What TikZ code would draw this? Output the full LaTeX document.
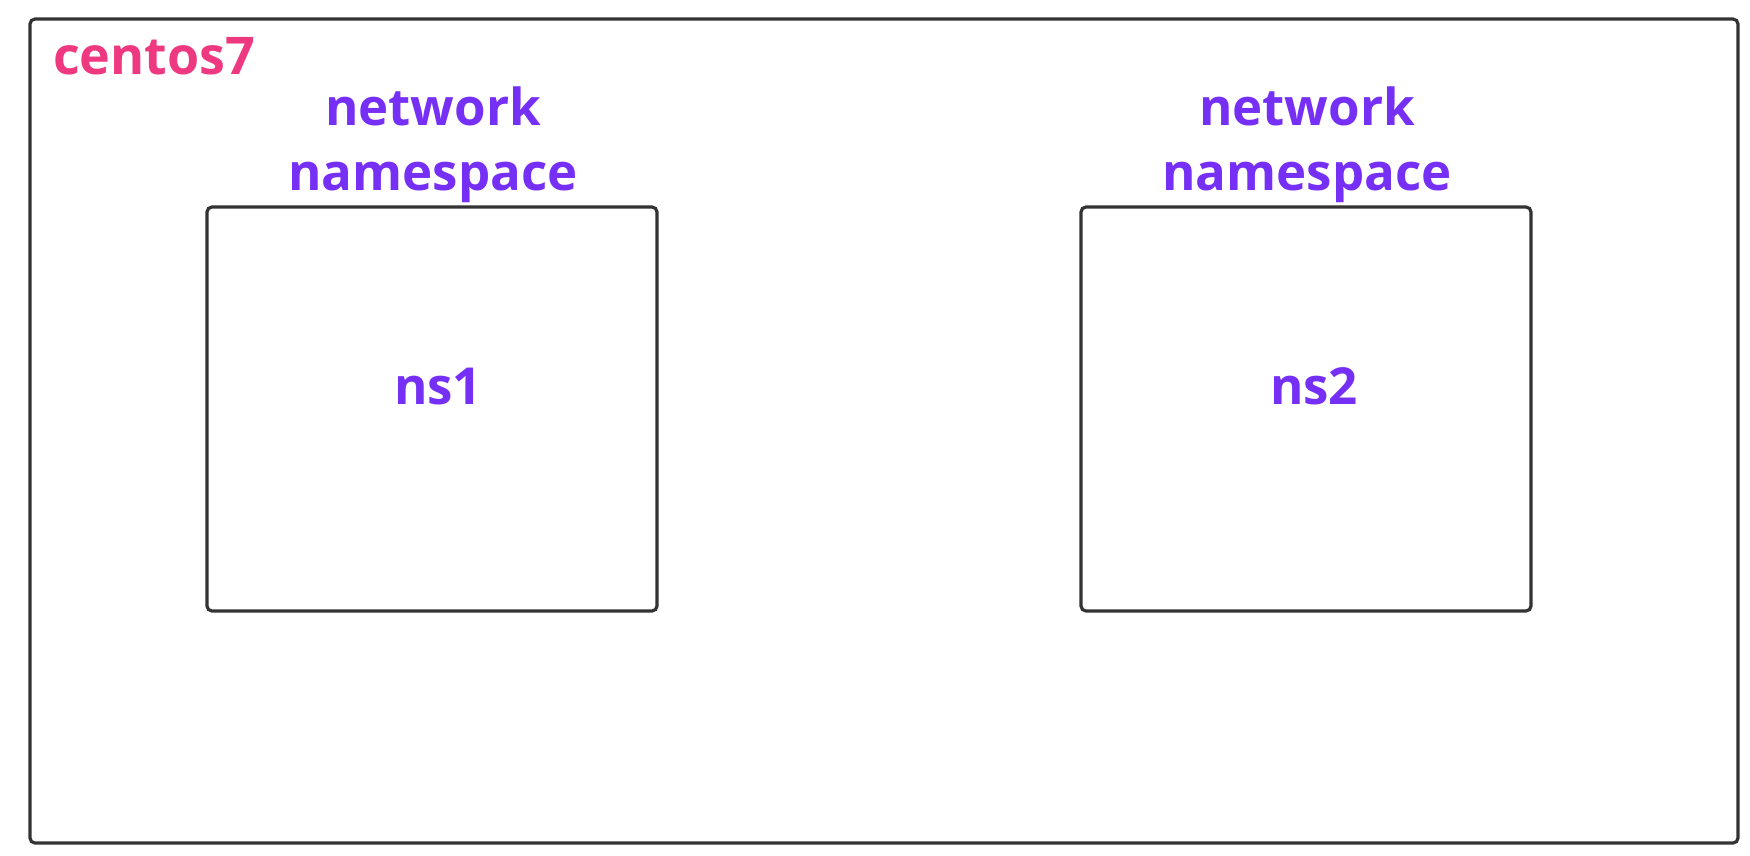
\documentclass[tikz,border=0pt]{standalone}
\usepackage{fontspec}
\setmainfont{Open Sans}
\definecolor{pinkc}{RGB}{238,56,128}
\definecolor{purplec}{RGB}{118,48,245}
\definecolor{linec}{RGB}{51,51,51}
\begin{document}
\begin{tikzpicture}[x=1pt,y=-1pt,
  boxc/.style={draw=linec,line width=3.2pt,rounded corners=5pt},
  purp/.style={text=purplec,font=\bfseries\fontsize{51}{64}\selectfont,inner sep=0pt,anchor=base,align=center},
]
\useasboundingbox (0,0) rectangle (1750,856);
\draw[boxc] (30,19) rectangle (1738,843);
\node[inner sep=0pt,anchor=base west,text=pinkc,font=\bfseries\fontsize{52}{60}\selectfont] (os) at (53,75) {centos7};
\node[boxc,minimum width=450pt,minimum height=404pt,inner sep=0pt] (ns1box) at (432,409) {};
\node[boxc,minimum width=450pt,minimum height=404pt,inner sep=0pt] (ns2box) at (1306,409) {};
\node[purp] (lab1a) at (433,125) {network};
\node[purp] (lab1b) at (433,190.5) {namespace};
\node[purp] (lab2a) at (1307,125) {network};
\node[purp] (lab2b) at (1307,190.5) {namespace};
\node[purp] (ns1) at (438,404) {ns1};
\node[purp] (ns2) at (1314,404) {ns2};
\end{tikzpicture}
\end{document}
